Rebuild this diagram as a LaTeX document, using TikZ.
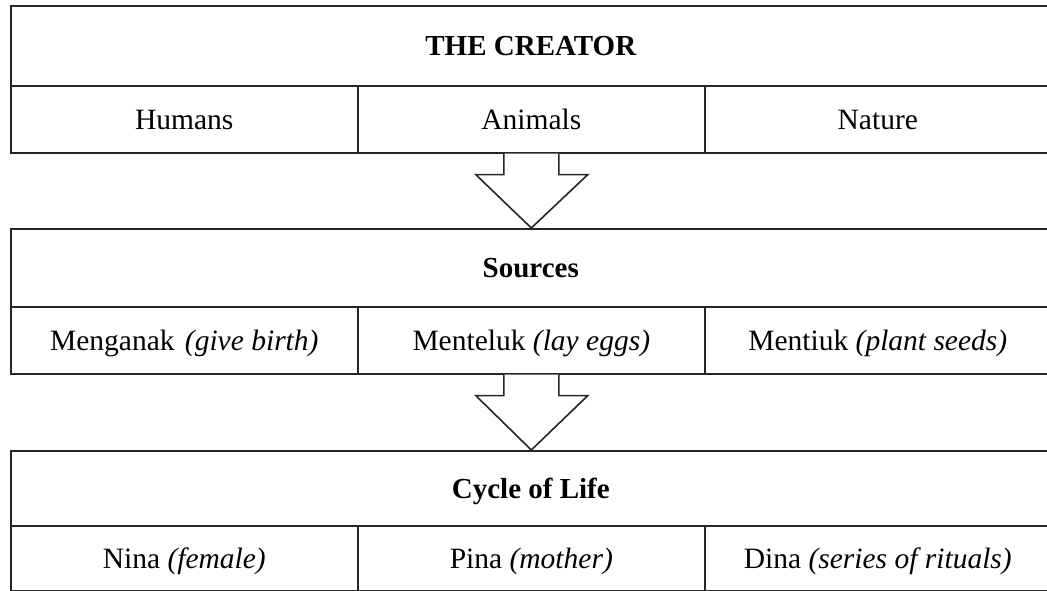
\documentclass[tikz,border=0pt]{standalone}
\usepackage{fontspec}
\setmainfont{Liberation Serif}
\usetikzlibrary{calc}
\begin{document}
\begin{tikzpicture}[x=1pt,y=-1pt,
  cell/.style={draw=black!85, line width=1.6pt, fill=white, inner sep=0pt,
    anchor=north west, text height=26pt, text depth=6.5pt,
    font=\fontsize{29.5}{34}\selectfont},
  head/.style={cell, minimum width=1040pt, font=\fontsize{29}{34}\selectfont\bfseries},
  colA/.style={cell, minimum width=347pt},
  colB/.style={cell, minimum width=347pt},
  colC/.style={cell, minimum width=346pt},
  blockarrow/.style={draw=black!85, line width=1.6pt, fill=white, line join=miter}]
\useasboundingbox (0,0) rectangle (1047,591);
\clip (0,0) rectangle (1047,591);

% Level 1: the creator
\node[head, minimum height=80pt] (creator) at (10,5) {THE CREATOR};
\node[colA, minimum height=67pt] (humans)  at (10,85)  {Humans};
\node[colB, minimum height=67pt] (animals) at (357,85) {Animals};
\node[colC, minimum height=67pt] (nature)  at (704,85) {Nature};

% Level 2: sources
\node[head, minimum height=78pt] (sources) at (10,228) {Sources};
\node[colA, minimum height=67pt] (menganak) at (10,306)  {Menganak\hspace{0.35em}\textit{(give birth)}};
\node[colB, minimum height=67pt] (menteluk) at (357,306) {Menteluk \textit{(lay eggs)}};
\node[colC, minimum height=67pt] (mentiuk)  at (704,306) {Mentiuk \textit{(plant seeds)}};

% Level 3: cycle of life
\node[head, minimum height=75pt] (cycle) at (10,450) {Cycle of Life};
\node[colA, minimum height=65pt] (nina) at (10,525)  {Nina \textit{(female)}};
\node[colB, minimum height=65pt] (pina) at (357,525) {Pina \textit{(mother)}};
\node[colC, minimum height=65pt] (dina) at (704,525) {Dina \textit{(series of rituals)}};

% Hollow block arrows between the levels
\draw[blockarrow]
  ($(animals.south)+(-27.5,0)$) -- ++(0,21) -- ++(-28,0)
  -- ($(sources.north -| animals.south)$)
  -- ($(animals.south)+(56.5,21)$) -- ++(-29,0) -- ($(animals.south)+(27.5,0)$);
\draw[blockarrow]
  ($(menteluk.south)+(-27.5,0)$) -- ++(0,21) -- ++(-28,0)
  -- ($(cycle.north -| menteluk.south)$)
  -- ($(menteluk.south)+(56.5,21)$) -- ++(-29,0) -- ($(menteluk.south)+(27.5,0)$);
\end{tikzpicture}
\end{document}
